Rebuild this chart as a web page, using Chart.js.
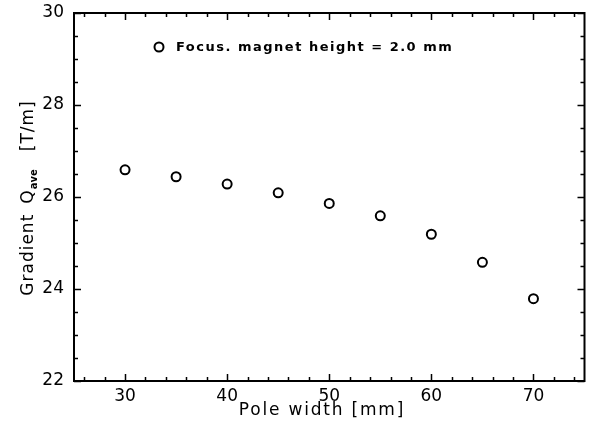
<!DOCTYPE html>
<html>
<head>
<meta charset="utf-8">
<script src="https://cdn.jsdelivr.net/npm/chart.js@4"></script>
<style>
  html, body { margin: 0; padding: 0; background: #fff; }
  #wrap { width: 591px; height: 431px; }
</style>
</head>
<body>
<div id="wrap"><canvas id="c" width="591" height="431"></canvas></div>
<script>
// ---- data ----
const poleWidth = [30, 35, 40, 45, 50, 55, 60, 65, 70];
const gradient = [26.59, 26.44, 26.28, 26.09, 25.86, 25.59, 25.19, 24.58, 23.79];
const seriesLabel = 'Focus. magnet height = 2.0 mm';
const xTicks = [30, 40, 50, 60, 70];
const yTicks = [22, 24, 26, 28, 30];
const xTitle = 'Pole width [mm]';
const yTitleMain = 'Gradient';
const yTitleQ = 'Q';
const yTitleSub = 'ave';
const yTitleUnit = '[T/m]';

const FONT = '"DejaVu Sans", sans-serif';

function setLS(ctx, v) { try { ctx.letterSpacing = v; } catch (e) {} }

const framePlugin = {
  id: 'frame',
  afterDatasetsDraw(chart) {
    const { ctx, chartArea: a, scales } = chart;
    const xs = scales.x, ys = scales.y;
    ctx.save();
    ctx.strokeStyle = '#000';
    ctx.lineWidth = 2;
    ctx.strokeRect(a.left, a.top, a.right - a.left, a.bottom - a.top);
    ctx.lineWidth = 1.5;
    ctx.beginPath();
    for (let v = xs.min; v <= xs.max + 1e-9; v += 1) {
      if (v % 2 !== 0) continue;
      const px = Math.round(xs.getPixelForValue(v)) + 0.5;
      const major = xTicks.includes(v);
      const len = major ? 7 : 4;
      ctx.moveTo(px, a.bottom); ctx.lineTo(px, a.bottom - len);
      ctx.moveTo(px, a.top); ctx.lineTo(px, a.top + len);
    }
    for (let v = ys.min; v <= ys.max + 1e-9; v += 0.5) {
      const py = Math.round(ys.getPixelForValue(v)) + 0.5;
      const major = yTicks.includes(v);
      const len = major ? 7 : 4;
      ctx.moveTo(a.left, py); ctx.lineTo(a.left + len, py);
      ctx.moveTo(a.right, py); ctx.lineTo(a.right - len, py);
    }
    ctx.stroke();

    // legend inside plot
    const lx = 159, ly = 47;
    ctx.lineWidth = 2;
    ctx.beginPath();
    ctx.arc(lx, ly, 4.5, 0, Math.PI * 2);
    ctx.stroke();
    ctx.fillStyle = '#000';
    ctx.font = 'bold 13px ' + FONT;
    ctx.textBaseline = 'middle';
    ctx.textAlign = 'left';
    setLS(ctx, '1.5px');
    ctx.fillText(seriesLabel, 176, ly + 1);

    // x axis title
    ctx.font = '17px ' + FONT;
    setLS(ctx, '1.8px');
    ctx.textAlign = 'center';
    ctx.textBaseline = 'middle';
    ctx.fillText(xTitle, 322, 411);

    // y axis title with subscript
    ctx.textAlign = 'left';
    ctx.textBaseline = 'alphabetic';
    const mainFont = '17px ' + FONT;
    const subFont = 'bold 10px ' + FONT;
    setLS(ctx, '1px');
    ctx.font = mainFont;
    const wG = ctx.measureText(yTitleMain).width;
    const wQ = ctx.measureText(yTitleQ).width;
    const wU = ctx.measureText(yTitleUnit).width;
    setLS(ctx, '0px');
    ctx.font = subFont;
    const wS = ctx.measureText(yTitleSub).width;
    const gap1 = 10, gap2 = 18;
    const total = wG + gap1 + wQ + wS + gap2 + wU;
    ctx.translate(27, 198);
    ctx.rotate(-Math.PI / 2);
    let x0 = -total / 2;
    setLS(ctx, '1px');
    ctx.font = mainFont;
    ctx.fillText(yTitleMain, x0, 6); x0 += wG + gap1;
    ctx.fillText(yTitleQ, x0, 6); x0 += wQ;
    setLS(ctx, '0px');
    ctx.font = subFont;
    ctx.fillText(yTitleSub, x0, 10); x0 += wS + gap2;
    setLS(ctx, '1px');
    ctx.font = mainFont;
    ctx.fillText(yTitleUnit, x0, 6);
    ctx.restore();
  }
};

new Chart(document.getElementById('c'), {
  type: 'scatter',
  data: {
    datasets: [{
      label: seriesLabel,
      data: poleWidth.map((x, i) => ({ x, y: gradient[i] })),
      pointStyle: 'circle',
      pointRadius: 4.5,
      pointBorderWidth: 2,
      pointBorderColor: '#000',
      pointBackgroundColor: 'rgba(0,0,0,0)',
      showLine: false
    }]
  },
  options: {
    responsive: false,
    animation: false,
    devicePixelRatio: 1,
    layout: { padding: { top: 13, right: 5, left: 0, bottom: 0 } },
    plugins: { legend: { display: false }, tooltip: { enabled: false } },
    scales: {
      x: {
        type: 'linear', min: 25, max: 75,
        afterBuildTicks(s) { s.ticks = xTicks.map(v => ({ value: v })); },
        afterFit(s) { s.height = 50; s.paddingLeft = 0; s.paddingRight = 0; },
        grid: { display: false, drawTicks: false },
        border: { display: false },
        ticks: { color: '#000', font: { family: FONT, size: 17 }, padding: 5, maxRotation: 0 },
        title: { display: false }
      },
      y: {
        type: 'linear', min: 22, max: 30,
        afterBuildTicks(s) { s.ticks = yTicks.map(v => ({ value: v })); },
        afterFit(s) { s.width = 74; s.paddingTop = 0; s.paddingBottom = 0; },
        grid: { display: false, drawTicks: false },
        border: { display: false },
        ticks: { color: '#000', font: { family: FONT, size: 17 }, padding: 10 }
      }
    }
  },
  plugins: [framePlugin]
});
</script>
</body>
</html>
